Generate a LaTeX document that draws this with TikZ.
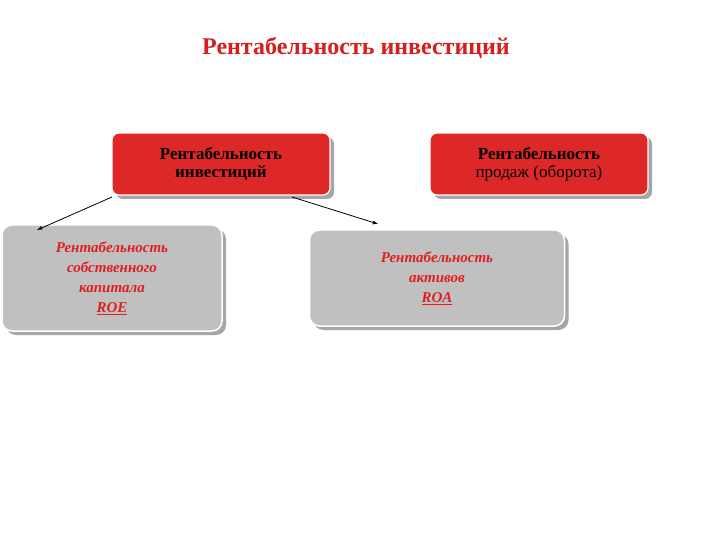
\documentclass[tikz,border=0pt]{standalone}
\usepackage{fontspec}
\setmainfont{Liberation Serif}
\usetikzlibrary{shadows}
\begin{document}
\begin{tikzpicture}[x=1pt,y=-1pt,
 redbox/.style={draw=white,line width=1.2pt,fill={rgb,255:red,222;green,40;blue,40},rounded corners=7pt,
   drop shadow={shadow xshift=4pt,shadow yshift=-4pt,fill=gray!70,opacity=1},
   minimum width=218pt,minimum height=62pt,align=center,font=\bfseries\fontsize{17}{18}\selectfont},
 graybox/.style={draw=white,line width=1.5pt,fill={rgb,255:red,192;green,192;blue,192},rounded corners=10pt,
   drop shadow={shadow xshift=4pt,shadow yshift=-4pt,fill=gray!70,opacity=1},
   align=center,text={rgb,255:red,225;green,30;blue,30},font=\bfseries\itshape\fontsize{15}{20}\selectfont},
 arr/.style={-latex,line width=0.8pt}]
\useasboundingbox (0,0) rectangle (720,540);
\node[text={rgb,255:red,215;green,30;blue,30},font=\bfseries\fontsize{24}{26}\selectfont] (t) at (356,48) {Рентабельность инвестиций};
\node[redbox] (a) at (221,164) {Рентабельность\\инвестиций};
\node[redbox] (b) at (539,164) {Рентабельность\\\mdseries продаж (оборота)};
\node[graybox,minimum width=220pt,minimum height=106pt] (c) at (112,278) {Рентабельность\\собственного\\капитала\\\underline{ROE}};
\node[graybox,minimum width=255pt,minimum height=96pt] (d) at (437,278) {Рентабельность\\активов\\\underline{ROA}};
\coordinate (a1) at (112,197);
\coordinate (a2) at (292,197);
\draw[arr] (a1) -- (37,230);
\draw[arr] (a2) -- (378,224);
\end{tikzpicture}
\end{document}
